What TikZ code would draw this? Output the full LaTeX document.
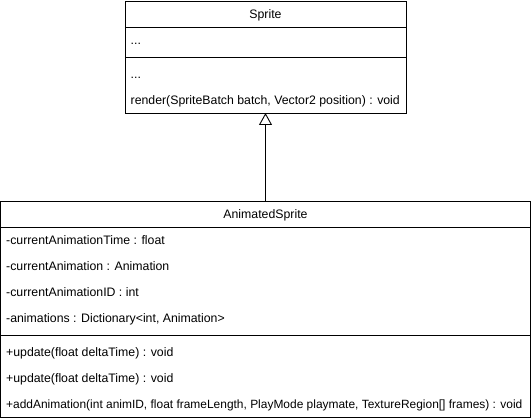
\documentclass[tikz,border=0pt]{standalone}
\usepackage{fontspec}
\setmainfont{Liberation Sans}
\usetikzlibrary{arrows.meta}
\begin{document}
\begin{tikzpicture}[x=1pt,y=-1pt,
  umlbox/.style={draw=black,line width=0.9pt,fill=white,inner sep=0pt,outer sep=0pt},
  sepline/.style={draw=black,line width=0.9pt},
  lbl/.style={font=\fontsize{12.3}{14}\selectfont,inner sep=0pt,anchor=base west},
  ttl/.style={font=\fontsize{12.3}{14}\selectfont,inner sep=0pt,anchor=base},
  inherit/.style={draw=black,line width=0.9pt,-{Triangle[open,length=12pt,width=13pt,line width=0.9pt]}}]
\useasboundingbox (0,0) rectangle (531,420);
% Sprite class
\node[umlbox,minimum width=281pt,minimum height=112pt] (sprite) at (265.5,57) {};
\draw[sepline] (125,27) -- (406,27);
\draw[sepline] (125,57) -- (406,57);
\node[ttl] (spritename) at (265.5,18.3) {Sprite};
\node[lbl] (sattr) at (130.5,44.3) {...};
\node[lbl] (smeth) at (130.5,78.3) {...};
\node[lbl] (srender) at (130.5,104.3) {render(SpriteBatch batch, Vector2 position) : void};
% AnimatedSprite class
\node[umlbox,minimum width=530pt,minimum height=216pt] (anim) at (265.5,309) {};
\draw[sepline] (0.5,227) -- (530.5,227);
\draw[sepline] (0.5,335) -- (530.5,335);
\node[ttl] (animname) at (265.5,218.3) {AnimatedSprite};
\node[lbl] (a1) at (6,244.3) {-currentAnimationTime : float};
\node[lbl] (a2) at (6,270.3) {-currentAnimation : Animation};
\node[lbl] (a3) at (6,296.3) {-currentAnimationID : int};
\node[lbl] (a4) at (6,322.3) {-animations : Dictionary<int, Animation>};
\node[lbl] (m1) at (6,356.3) {+update(float deltaTime) : void};
\node[lbl] (m2) at (6,382.3) {+update(float deltaTime) : void};
\node[lbl,font=\fontsize{11.95}{14}\selectfont] (m3) at (6,408.3) {+addAnimation(int animID, float frameLength, PlayMode playmate, TextureRegion[] frames) : void};
% inheritance
\draw[inherit] (anim.north) -- (sprite.south);
\end{tikzpicture}
\end{document}
